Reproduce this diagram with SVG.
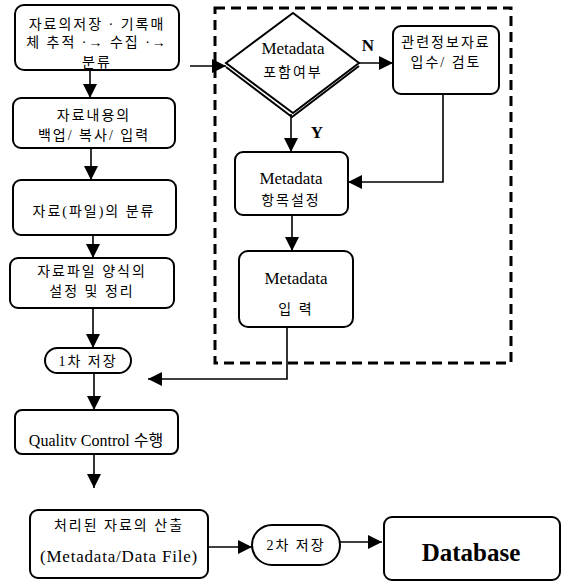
<svg xmlns="http://www.w3.org/2000/svg" width="564" height="583" viewBox="0 0 564 583" xml:space="preserve">
<defs>
<marker id="ah" markerWidth="14" markerHeight="14" viewBox="0 0 14 14" refX="14" refY="7" orient="auto" markerUnits="userSpaceOnUse">
<path d="M0,0 L14,7 L0,14 Z" fill="#000"/>
</marker>
<style>
.box{fill:#fff;stroke:#000;stroke-width:2}
.t{font-family:"Liberation Serif","Noto Sans CJK KR",serif;font-size:14px;fill:#000;text-anchor:middle}
.k{letter-spacing:2px}
.m{font-size:17px}
.b{font-weight:bold}
.db{font-size:25px;font-weight:bold}
.c{fill:none;stroke:#000;stroke-width:1.6}
</style>
</defs>
<rect width="564" height="583" fill="#fff"/>
<rect x="215" y="8" width="296" height="355" fill="none" stroke="#000" stroke-width="3" stroke-dasharray="10,6"/>
<g id="connectors">
<path class="c" d="M90,70 V98" marker-end="url(#ah)"/>
<path class="c" d="M91,148 V180" marker-end="url(#ah)"/>
<path class="c" d="M93,235 V258" marker-end="url(#ah)"/>
<path class="c" d="M93,308 V348" marker-end="url(#ah)"/>
<path class="c" d="M94,373 V410" marker-end="url(#ah)"/>
<path class="c" d="M94,454 V488" marker-end="url(#ah)"/>
<path class="c" d="M190,66 H226" marker-end="url(#ah)"/>
<path class="c" d="M359,63 H393" marker-end="url(#ah)"/>
<path class="c" d="M291,114 V152" marker-end="url(#ah)"/>
<path class="c" d="M443,94 V182 H348" marker-end="url(#ah)"/>
<path class="c" d="M292,215 V251" marker-end="url(#ah)"/>
<path class="c" d="M287,327 V379 H148" marker-end="url(#ah)"/>
<path class="c" d="M208,547 H252" marker-end="url(#ah)"/>
<path class="c" d="M340,542 H382" marker-end="url(#ah)"/>
<text class="t b m" x="368" y="51">N</text>
<text class="t b m" x="317" y="138">Y</text>
</g>
<g id="n1">
<rect class="box" x="15" y="5" width="164" height="65" rx="9"/>
<text class="t k" x="97" y="29">자료의저장 · 기록매</text>
<text class="t k" x="97" y="47">체 추적 ·→ 수집 ·→</text>
<text class="t k" x="97" y="67">분류</text>
</g>
<g id="n2">
<rect class="box" x="13" y="98" width="162" height="50" rx="8"/>
<text class="t k" x="94" y="120">자료내용의</text>
<text class="t k" x="94" y="140">백업/ 복사/ 입력</text>
</g>
<g id="n3">
<rect class="box" x="13" y="180" width="163" height="55" rx="8"/>
<text class="t k" x="94" y="216">자료(파일)의 분류</text>
</g>
<g id="n4">
<rect class="box" x="10" y="258" width="164" height="50" rx="8"/>
<text class="t k" x="92" y="276">자료파일 양식의</text>
<text class="t k" x="92" y="296">설정 및 정리</text>
</g>
<g id="n5">
<rect class="box" x="45" y="348" width="86" height="25" rx="12.5"/>
<text class="t k" x="88" y="366">1차 저장</text>
</g>
<g id="n6">
<rect class="box" x="15" y="410" width="163" height="44" rx="7"/>
<text class="t" x="96" y="446" style="font-size:16px">Qualitv  Control  수행</text>
</g>
<g id="n7">
<rect class="box" x="30" y="510" width="178" height="68" rx="8"/>
<text class="t k" x="119" y="530">처리된 자료의 산출</text>
<text class="t m" x="119" y="562" style="letter-spacing:0.8px">(Metadata/Data File)</text>
</g>
<g id="n8">
<rect class="box" x="252" y="525" width="88" height="40" rx="20"/>
<text class="t k" x="296" y="550">2차 저장</text>
</g>
<g id="n9">
<rect class="box" x="384" y="517" width="176" height="63" rx="8"/>
<text class="t db" x="471" y="561">Database</text>
</g>
<g id="n10">
<polyline points="226,67 292,117 359,66" fill="none" stroke="#000" stroke-width="2"/>
<polygon points="226,63 293,13 359,63 293,113" fill="#fff" stroke="#000" stroke-width="2"/>
<text class="t m" x="293" y="54">Metadata</text>
<text class="t k" x="293" y="77">포함여부</text>
</g>
<g id="n11">
<rect class="box" x="393" y="26" width="106" height="68" rx="8"/>
<text class="t k" x="446" y="47">관련정보자료</text>
<text class="t k" x="446" y="67">입수/ 검토</text>
</g>
<g id="n12">
<rect class="box" x="235" y="152" width="113" height="63" rx="8"/>
<text class="t m" x="291" y="184">Metadata</text>
<text class="t k" x="291" y="205">항목설정</text>
</g>
<g id="n13">
<rect class="box" x="239" y="251" width="114" height="76" rx="9"/>
<text class="t m" x="296" y="284">Metadata</text>
<text class="t k" x="296" y="314">입 력</text>
</g>
</svg>
